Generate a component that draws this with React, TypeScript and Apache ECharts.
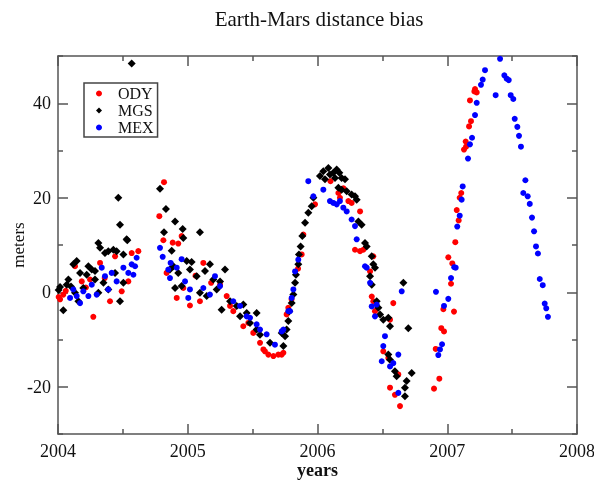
import React, { useEffect, useRef } from 'react';
import * as echarts from 'echarts';

const ODY: [number, number][] = [
  [2004.005, -1.0], [2004.016, -1.5], [2004.041, -0.5], [2004.06, 0.3], [2004.131, 5.5], [2004.183, 2.3],
  [2004.215, 1.0], [2004.247, 2.7], [2004.272, -5.2], [2004.324, 6.2], [2004.36, 3.0], [2004.401, -1.9],
  [2004.44, 7.6], [2004.491, 0.2], [2004.542, 2.3], [2004.568, 8.3], [2004.619, 8.7],
  [2004.781, 16.1], [2004.812, 11.0], [2004.817, 23.3], [2004.837, 4.1], [2004.884, 10.5], [2004.915, -1.2],
  [2004.927, 10.3], [2004.953, 11.9], [2004.966, 0.9], [2005.017, -2.8], [2005.06, 3.5], [2005.094, -1.9],
  [2005.12, 6.2], [2005.18, 2.0], [2005.249, 1.6], [2005.3, -0.8], [2005.326, -2.9], [2005.351, -4.0],
  [2005.428, -7.2], [2005.467, -6.5], [2005.505, -8.6], [2005.557, -10.7], [2005.583, -12.1], [2005.595, -12.5],
  [2005.621, -13.2], [2005.66, -13.5], [2005.698, -13.2], [2005.724, -13.2], [2005.737, -12.8],
  [2005.762, -4.7], [2005.775, -3.3], [2005.8, -1.5], [2005.85, 5.0], [2005.878, 8.0], [2005.891, 12.2],
  [2005.981, 18.6], [2006.1, 23.5], [2006.161, 21.0], [2006.173, 20.0], [2006.2, 22.0], [2006.238, 19.3],
  [2006.263, 18.9], [2006.289, 9.0], [2006.328, 17.1], [2006.328, 8.7], [2006.353, 9.0], [2006.405, 4.4],
  [2006.418, -0.9], [2006.43, 7.6], [2006.43, -1.9], [2006.443, -4.0], [2006.507, -12.5], [2006.546, -13.9],
  [2006.559, -5.8], [2006.559, -20.2], [2006.584, -2.3], [2006.597, -21.7], [2006.623, -17.4], [2006.636, -24.1],
  [2006.898, -20.4], [2006.911, -12.0], [2006.939, -18.3], [2006.954, -7.6], [2006.97, -3.6], [2006.975, -8.3],
  [2007.008, 7.4], [2007.029, 1.8], [2007.039, 6.1], [2007.052, -4.1], [2007.062, 10.6], [2007.073, 17.4],
  [2007.088, 15.2], [2007.096, 20.0], [2007.108, 21.0], [2007.129, 30.2], [2007.142, 31.9], [2007.145, 30.8],
  [2007.168, 35.1], [2007.175, 40.6], [2007.183, 36.2], [2007.209, 42.5], [2007.214, 43.0], [2007.227, 42.3],
];

const MGS: [number, number][] = [
  [2004.005, 0.5], [2004.016, 1.1], [2004.041, -3.8], [2004.067, 1.6], [2004.08, 2.7], [2004.1, 1.2],
  [2004.118, 5.9], [2004.131, -0.1], [2004.144, 6.6], [2004.157, -1.9], [2004.17, 4.1], [2004.195, 0.9],
  [2004.221, 3.7], [2004.234, 5.5], [2004.26, 4.8], [2004.285, 4.5], [2004.285, 2.7], [2004.311, 10.4],
  [2004.311, -0.1], [2004.324, 9.4], [2004.35, 2.0], [2004.362, 8.3], [2004.388, 8.7], [2004.388, 0.6],
  [2004.427, 9.0], [2004.44, 4.1], [2004.452, 8.7], [2004.465, 20.0], [2004.478, 14.3], [2004.478, -1.9],
  [2004.504, 8.0], [2004.504, 2.0], [2004.529, 11.2], [2004.534, 11.0], [2004.568, 48.4],
  [2004.786, 21.9], [2004.817, 12.7], [2004.832, 17.6], [2004.863, 4.8], [2004.876, 8.8], [2004.889, 5.5],
  [2004.902, 15.0], [2004.902, 0.9], [2004.927, 4.1], [2004.953, 1.3], [2004.961, 13.4], [2004.966, 11.5],
  [2004.992, 6.6], [2005.017, 4.8], [2005.03, 6.4], [2005.069, 3.4], [2005.094, 12.7], [2005.094, -0.1],
  [2005.133, 4.5], [2005.146, -0.8], [2005.171, 5.9], [2005.197, 2.7], [2005.223, 0.6], [2005.249, 2.3],
  [2005.261, -3.7], [2005.287, 4.8], [2005.326, -1.9], [2005.377, -2.9], [2005.403, -5.1], [2005.428, -2.6],
  [2005.454, -4.4], [2005.48, -6.5], [2005.531, -4.4], [2005.531, -7.9], [2005.557, -9.0], [2005.634, -10.7],
  [2005.724, -8.6], [2005.737, -11.4], [2005.75, -9.3], [2005.762, -7.9], [2005.775, -6.1], [2005.783, -4.0],
  [2005.801, -2.3], [2005.814, -0.5], [2005.827, 2.0], [2005.834, 3.7], [2005.852, 5.9], [2005.857, 8.0],
  [2005.87, 9.7], [2005.883, 11.9], [2005.904, 14.7], [2005.929, 16.8], [2005.955, 18.2], [2005.968, 20.0],
  [2006.019, 24.6], [2006.045, 25.6], [2006.058, 23.9], [2006.084, 26.3], [2006.096, 24.9], [2006.122, 25.3],
  [2006.135, 24.2], [2006.148, 26.0], [2006.161, 22.1], [2006.168, 25.3], [2006.186, 24.2], [2006.186, 21.7],
  [2006.212, 23.9], [2006.225, 21.4], [2006.263, 20.7], [2006.289, 20.3], [2006.302, 19.6], [2006.315, 15.0],
  [2006.34, 14.3], [2006.366, 10.4], [2006.379, 9.7], [2006.405, 3.4], [2006.418, 7.6], [2006.418, 1.6],
  [2006.43, 5.9], [2006.443, 5.2], [2006.456, -1.9], [2006.469, -3.3], [2006.482, -4.7], [2006.507, -5.8],
  [2006.546, -5.4], [2006.546, -13.2], [2006.559, -7.2], [2006.559, -14.3], [2006.597, -16.7], [2006.61, -17.8],
  [2006.662, 2.0], [2006.674, -20.2], [2006.674, -22.0], [2006.687, -18.8], [2006.7, -7.6], [2006.726, -17.1],
];

const MEX: [number, number][] = [
  [2004.093, -1.2], [2004.118, 0.6], [2004.144, -0.8], [2004.17, -2.3], [2004.195, 0.2], [2004.234, -0.8],
  [2004.26, 1.6], [2004.298, -0.5], [2004.337, 5.2], [2004.362, 3.4], [2004.388, 0.6], [2004.414, 4.1],
  [2004.452, 2.3], [2004.504, 5.2], [2004.542, 4.1], [2004.568, 5.9], [2004.581, 3.7], [2004.594, 5.5],
  [2004.606, 7.3],
  [2004.786, 9.4], [2004.807, 7.5], [2004.85, 4.8], [2004.863, 3.0], [2004.868, 6.2], [2004.915, 5.2],
  [2004.953, 7.0], [2004.979, 2.3], [2005.004, -1.2], [2005.017, 0.6], [2005.12, 0.9], [2005.171, -0.5],
  [2005.21, 3.4], [2005.249, 1.3], [2005.351, -1.9], [2005.403, -2.9], [2005.454, -5.1], [2005.48, -5.4],
  [2005.531, -6.8], [2005.557, -7.9], [2005.608, -8.9], [2005.672, -11.1], [2005.724, -8.3], [2005.737, -7.9],
  [2005.775, -4.0], [2005.788, -4.0], [2005.801, -1.2], [2005.814, 0.6], [2005.827, 4.4], [2005.852, 6.9],
  [2005.929, 23.5], [2005.968, 20.3], [2006.045, 21.7], [2006.096, 19.3], [2006.122, 18.9], [2006.148, 18.6],
  [2006.173, 19.3], [2006.199, 17.9], [2006.225, 17.1], [2006.263, 15.4], [2006.289, 14.0], [2006.302, 11.2],
  [2006.366, 5.5], [2006.379, 5.2], [2006.405, 2.0], [2006.418, -3.0], [2006.443, -5.1], [2006.456, -2.6],
  [2006.495, -14.6], [2006.507, -11.4], [2006.52, -9.3], [2006.559, -15.7], [2006.584, -15.0], [2006.623, -13.2],
  [2006.623, -21.3], [2006.649, 0.2],
  [2006.913, 0.1], [2006.931, -13.3], [2006.944, -12.1], [2006.96, -11.0], [2006.975, -2.9], [2007.008, -1.4],
  [2007.029, 3.0], [2007.054, 5.3], [2007.065, 5.2], [2007.077, 13.9], [2007.096, 16.2], [2007.111, 19.6],
  [2007.119, 22.4], [2007.16, 28.3], [2007.175, 31.3], [2007.191, 32.7], [2007.214, 37.5], [2007.227, 40.1],
  [2007.26, 43.9], [2007.273, 45.0], [2007.291, 47.0], [2007.373, 41.7], [2007.407, 49.4], [2007.44, 45.9],
  [2007.458, 45.2], [2007.474, 44.9], [2007.489, 41.7], [2007.509, 40.9], [2007.52, 36.7], [2007.54, 35.0],
  [2007.553, 33.1], [2007.568, 30.8], [2007.586, 21.0], [2007.602, 23.7], [2007.62, 20.3], [2007.636, 18.7],
  [2007.653, 15.8], [2007.669, 12.9], [2007.684, 9.7], [2007.699, 8.2], [2007.713, 2.8], [2007.736, 1.5],
  [2007.751, -2.4], [2007.763, -3.4], [2007.776, -5.2],
];

const SERIES_NAMES = ['ODY', 'MGS', 'MEX'];
const Y_LABELS = [-20, 0, 20, 40];

const FONT = "'Liberation Serif', 'Times New Roman', serif";
const AXIS_COLOR = '#555';

export default function App() {
  const ref = useRef<HTMLDivElement>(null);
  useEffect(() => {
    if (!ref.current) return;
    const chart = echarts.init(ref.current, null, { renderer: 'svg' });
    const lineStyle = { color: AXIS_COLOR, width: 1.5 };
    const xCommon = {
      type: 'value',
      min: 2004,
      max: 2008,
      interval: 1,
      axisLine: { show: true, onZero: false, lineStyle },
      axisTick: { show: true, inside: true, length: 10, lineStyle },
      minorTick: { show: true, splitNumber: 2, length: 5, lineStyle },
      splitLine: { show: false },
      minorSplitLine: { show: false },
    };
    const yCommon = {
      type: 'value',
      min: -30,
      max: 50,
      interval: 20,
      axisLine: { show: true, onZero: false, lineStyle },
      axisTick: { show: true, inside: true, length: 5, lineStyle },
      minorTick: { show: true, splitNumber: 2, length: 10, lineStyle },
      splitLine: { show: false },
      minorSplitLine: { show: false },
    };
    chart.setOption({
      animation: false,
      graphic: [
        {
          type: 'text',
          x: 319,
          y: 19,
          style: {
            text: 'Earth-Mars distance bias',
            font: `21px ${FONT}`,
            fill: '#111',
            textAlign: 'center',
            textVerticalAlign: 'middle',
          },
        },
      ],
      grid: { left: 58, right: 17, top: 56, bottom: 46, containLabel: false, outerBoundsMode: 'none' },
      legend: {
        orient: 'vertical',
        left: 84,
        top: 83,
        padding: [2, 4, 1, 12],
        itemGap: 0,
        itemWidth: 6,
        itemHeight: 6,
        borderColor: '#444',
        borderWidth: 1.5,
        textStyle: { fontFamily: FONT, fontSize: 16, color: '#111', lineHeight: 17, padding: [0, 0, 0, 11] },
        data: [
          { name: 'ODY', icon: 'circle' },
          { name: 'MGS', icon: 'diamond' },
          { name: 'MEX', icon: 'circle' },
        ],
      },
      xAxis: [
        {
          ...xCommon,
          position: 'bottom',
          name: 'years',
          nameLocation: 'middle',
          nameGap: 27,
          nameMoveOverlap: false,
          nameTextStyle: { fontFamily: FONT, fontSize: 18, fontWeight: 'bold', color: '#111' },
          axisLabel: { show: true, margin: 8, fontFamily: FONT, fontSize: 18, color: '#111', formatter: (v: number) => String(v) },
        },
        { ...xCommon, position: 'top', axisLabel: { show: false } },
      ],
      yAxis: [
        {
          ...yCommon,
          position: 'left',
          name: 'meters',
          nameLocation: 'middle',
          nameGap: 31,
          nameMoveOverlap: false,
          nameTextStyle: { fontFamily: FONT, fontSize: 17, color: '#111' },
          axisLabel: { show: true, margin: 7, fontFamily: FONT, fontSize: 18, color: '#111', customValues: Y_LABELS },
        },
        { ...yCommon, position: 'right', axisLabel: { show: false } },
      ],
      series: [
        { name: SERIES_NAMES[0], type: 'scatter', data: ODY, symbol: 'circle', symbolSize: 6, itemStyle: { color: '#ff0000', opacity: 1 } },
        { name: SERIES_NAMES[1], type: 'scatter', data: MGS, symbol: 'diamond', symbolSize: 8, itemStyle: { color: '#000000', opacity: 1 } },
        { name: SERIES_NAMES[2], type: 'scatter', data: MEX, symbol: 'circle', symbolSize: 6, itemStyle: { color: '#0000ff', opacity: 1 } },
      ],
    });
    return () => chart.dispose();
  }, []);
  return <div ref={ref} style={{ position: 'fixed', left: 0, top: 0, width: 594, height: 480 }} />;
}
